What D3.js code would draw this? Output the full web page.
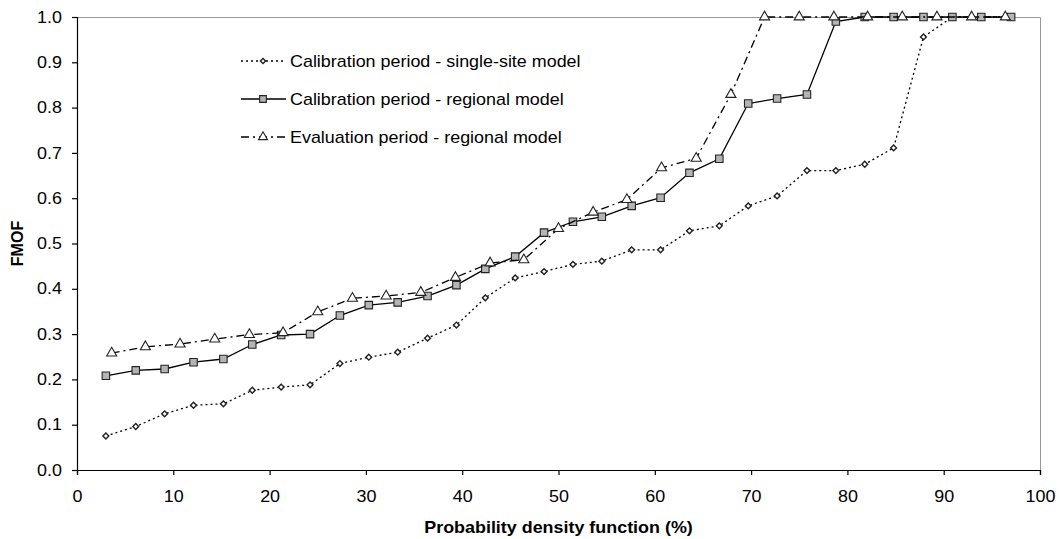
<!DOCTYPE html>
<html>
<head>
<meta charset="utf-8">
<script src="https://cdn.jsdelivr.net/npm/d3@7"></script>
<style>
  body { margin: 0; background: white; }
  text { font-family: "Liberation Sans", Arial, sans-serif; fill: #000; }
</style>
</head>
<body>
<script>
// values
let singleX = [3.0, 6.1, 9.1, 12.1, 15.2, 18.2, 21.2, 24.2, 27.3, 30.3, 33.3, 36.4, 39.4, 42.4, 45.5, 48.5,
               51.5, 54.5, 57.6, 60.6, 63.6, 66.7, 69.7, 72.7, 75.8, 78.8, 81.8, 84.8, 87.9, 90.9, 93.9, 97.0]
let singleY = [0.075, 0.096, 0.124, 0.143, 0.146, 0.176, 0.183, 0.188, 0.235, 0.249, 0.260, 0.291, 0.320, 0.380, 0.424, 0.438,
               0.454, 0.461, 0.486, 0.486, 0.528, 0.539, 0.583, 0.605, 0.661, 0.661, 0.675, 0.711, 0.956, 1.0, 1.0, 1.0]

let regionalX = singleX
let regionalY = [0.208, 0.220, 0.223, 0.238, 0.245, 0.277, 0.298, 0.300, 0.341, 0.364, 0.370, 0.384, 0.408, 0.444, 0.471, 0.524,
                 0.548, 0.559, 0.583, 0.601, 0.656, 0.687, 0.809, 0.820, 0.829, 0.990, 1.0, 1.0, 1.0, 1.0, 1.0, 1.0]

let evalX = [3.6, 7.1, 10.7, 14.3, 17.9, 21.4, 25.0, 28.6, 32.1, 35.7, 39.3, 42.9, 46.4, 50.0,
             53.6, 57.1, 60.7, 64.3, 67.9, 71.4, 75.0, 78.6, 82.1, 85.7, 89.3, 92.9, 96.4]
let evalY = [0.258, 0.272, 0.278, 0.289, 0.299, 0.303, 0.349, 0.379, 0.384, 0.392, 0.425, 0.457, 0.464, 0.533,
             0.569, 0.597, 0.667, 0.688, 0.829, 1.0, 1.0, 1.0, 1.0, 1.0, 1.0, 1.0, 1.0]

let xTicks = [0, 10, 20, 30, 40, 50, 60, 70, 80, 90, 100]
let yTicks = [0, 0.1, 0.2, 0.3, 0.4, 0.5, 0.6, 0.7, 0.8, 0.9, 1.0]
let seriesNames = ["Calibration period - single-site model", "Calibration period - regional model", "Evaluation period - regional model"]

let width = 1060, height = 539
let margin = {top: 17, right: 20, bottom: 69, left: 77}
let w = width - margin.left - margin.right
let h = height - margin.top - margin.bottom
// the reference text is a bit wider than Arial, so stretch it sideways
let stretch = "scale(1.12,1)"

let svg = d3.select("body")
    .append("svg")
    .attr("width", width)
    .attr("height", height)

let g = svg.append("g")
    .attr("transform", "translate(" + margin.left + "," + margin.top + ")")

let x = d3.scaleLinear().domain([0, 100]).range([0, w])
let y = d3.scaleLinear().domain([0, 1]).range([h, 0])

// grey frame on top and right
g.append("path")
    .attr("d", "M0,0.5H" + (w + 0.5) + "V" + h)
    .attr("fill", "none")
    .attr("stroke", "#999")

g.append("g")
    .attr("transform", "translate(0," + h + ")")
    .call(d3.axisBottom(x).tickValues(xTicks).tickSize(5).tickPadding(16).tickFormat(d3.format("d")))
g.append("g")
    .call(d3.axisLeft(y).tickValues(yTicks).tickSize(5).tickPadding(8.4).tickFormat(d3.format(".1f")))

svg.selectAll(".domain, .tick line").attr("stroke", "#000").attr("stroke-width", 1.2)
svg.selectAll(".tick text")
    .style("font-family", "'Liberation Sans', Arial, sans-serif")
    .style("font-size", "16px")
    .attr("fill", "#000")
    .attr("transform", stretch)

// axis labels
svg.append("text")
    .attr("text-anchor", "middle")
    .attr("transform", "translate(" + (margin.left + w / 2) + ",533) " + stretch)
    .style("font-size", "16px")
    .style("font-weight", "bold")
    .text("Probability density function (%)")

svg.append("text")
    .attr("text-anchor", "middle")
    .attr("transform", "translate(23," + (margin.top + h / 2) + ") rotate(-90)")
    .style("font-size", "16px")
    .style("font-weight", "bold")
    .text("FMOF")

let series = [
    {xs: singleX, ys: singleY, dash: "2,3", symbol: d3.symbolSquare, rot: 45, size: 17, fill: "#fff", sw: 1.4},
    {xs: regionalX, ys: regionalY, dash: null, symbol: d3.symbolSquare, rot: 0, size: 56, fill: "#b4b4b4", sw: 1.1},
    {xs: evalX, ys: evalY, dash: "8,4,2,4", symbol: d3.symbolTriangle, rot: 0, size: 44, fill: "#fff", sw: 1.1}
]

let line = d3.line().x(d => x(d[0])).y(d => y(d[1]))

series.forEach(s => {
    let pts = s.xs.map((v, i) => [v, s.ys[i]])
    g.append("path")
        .datum(pts)
        .attr("d", line)
        .attr("fill", "none")
        .attr("stroke", "#000")
        .attr("stroke-width", 1.3)
        .attr("stroke-dasharray", s.dash)
    g.selectAll(null)
        .data(pts)
        .enter()
        .append("path")
        .attr("d", d3.symbol().type(s.symbol).size(s.size))
        .attr("transform", d => "translate(" + x(d[0]) + "," + y(d[1]) + ") rotate(" + s.rot + ")")
        .attr("fill", s.fill)
        .attr("stroke", "#222")
        .attr("stroke-width", s.sw)
})

// legend
let legendY = [61, 99, 137]
series.forEach((s, i) => {
    let lg = svg.append("g").attr("transform", "translate(241," + legendY[i] + ")")
    lg.append("line")
        .attr("x1", 0).attr("x2", 45)
        .attr("stroke", "#000")
        .attr("stroke-width", 1.3)
        .attr("stroke-dasharray", s.dash)
    lg.append("path")
        .attr("d", d3.symbol().type(s.symbol).size(s.size * 0.8))
        .attr("transform", "translate(22,0) rotate(" + s.rot + ")")
        .attr("fill", s.fill)
        .attr("stroke", "#222")
        .attr("stroke-width", s.sw)
    lg.append("text")
        .attr("transform", "translate(49,0) " + stretch)
        .attr("dy", "0.35em")
        .style("font-size", "16px")
        .text(seriesNames[i])
})
</script>
</body>
</html>
